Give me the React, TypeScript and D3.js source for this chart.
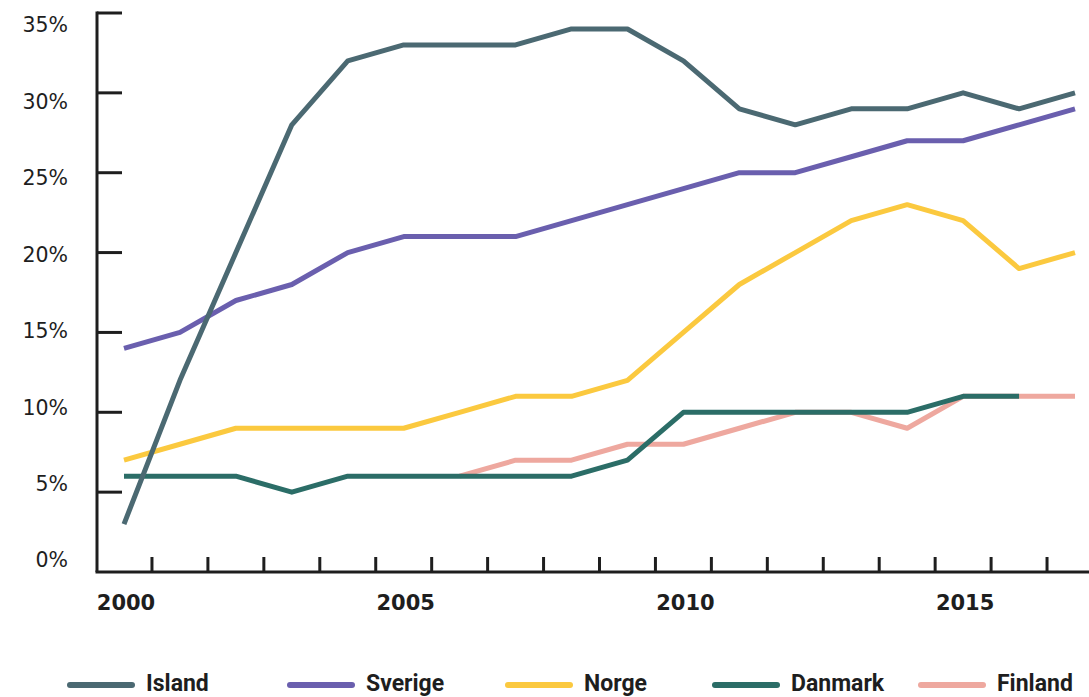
import React from "react";
import * as d3 from "d3";

const years = d3.range(2000, 2018);
const island = [3, 12, 20, 28, 32, 33, 33, 33, 34, 34, 32, 29, 28, 29, 29, 30, 29, 30];
const sverige = [14, 15, 17, 18, 20, 21, 21, 21, 22, 23, 24, 25, 25, 26, 27, 27, 28, 29];
const norge = [7, 8, 9, 9, 9, 9, 10, 11, 11, 12, 15, 18, 20, 22, 23, 22, 19, 20];
const danmark = [6, 6, 6, 5, 6, 6, 6, 6, 6, 7, 10, 10, 10, 10, 10, 11, 11];
// Finland only appears from 2006 on (hidden under Danmark before that)
const finland = [null, null, null, null, null, null, 6, 7, 7, 8, 8, 9, 10, 10, 9, 11, 11, 11];
const yTicks = [0, 5, 10, 15, 20, 25, 30, 35];
const xLabels = [2000, 2005, 2010, 2015];

const series = [
  { name: "Island", values: island, color: "#4b6972" },
  { name: "Sverige", values: sverige, color: "#6a5fae" },
  { name: "Norge", values: norge, color: "#fbc93f" },
  { name: "Danmark", values: danmark, color: "#2b6d67" },
  { name: "Finland", values: finland, color: "#eea89f" },
];
// draw order: pink under teal, island on top
const drawOrder = ["Finland", "Danmark", "Norge", "Sverige", "Island"];

export default function App() {
  const W = 1089, H = 697;
  const axisX = 97, axisY = 572;
  const x = d3.scaleLinear().domain([2000, 2017]).range([124, 1075]);
  const y = d3.scaleLinear().domain([0, 35]).range([axisY, 13]);
  // tick labels sit on a slightly tighter spacing than the ticks in the original
  const yLab = d3.scaleLinear().domain([0, 35]).range([560, 25]);
  const line = d3
    .line<number | null>()
    .defined((d) => d != null)
    .x((_, i) => x(years[i]))
    .y((d) => y(d as number));
  const halfTicks = d3.range(2000.5, 2017, 1);
  const legendX = [67, 287, 505, 712, 918];
  const ink = "#1e1e1e";

  return (
    <svg width={W} height={H} style={{ position: "absolute", left: 0, top: 0, background: "#fff" }}>
      {/* y axis */}
      <line x1={axisX} x2={axisX} y1={y(35) - 1.5} y2={axisY} stroke={ink} strokeWidth={3} />
      {yTicks.filter((t) => t > 0).map((t) => (
        <line key={t} x1={axisX} x2={axisX + 25} y1={y(t)} y2={y(t)} stroke={ink} strokeWidth={3} />
      ))}
      {yTicks.map((t) => (
        <text key={t} x={68} y={yLab(t)} dy="0.36em" textAnchor="end" fontFamily="DejaVu Sans" fontWeight={500} fontSize={20.5} fill={ink}>
          {t}%
        </text>
      ))}
      {/* x axis */}
      <line x1={axisX - 1.5} x2={W} y1={axisY} y2={axisY} stroke={ink} strokeWidth={3} />
      {halfTicks.map((t) => (
        <line key={t} x1={x(t)} x2={x(t)} y1={axisY} y2={axisY - 15} stroke={ink} strokeWidth={3} />
      ))}
      {xLabels.map((t) => (
        <text key={t} x={x(t) + 2} y={610} textAnchor="middle" fontFamily="DejaVu Sans" fontWeight="bold" fontSize={21} fill={ink}>
          {t}
        </text>
      ))}
      {/* lines */}
      {drawOrder.map((n) => {
        const s = series.find((d) => d.name === n)!;
        return (
          <path key={n} d={line(s.values) || ""} fill="none" stroke={s.color} strokeWidth={5} strokeLinejoin="round" />
        );
      })}
      {/* legend */}
      {series.map((s, i) => (
        <g key={s.name} transform={`translate(${legendX[i]},685)`}>
          <line x1={3} x2={65} y1={0} y2={0} stroke={s.color} strokeWidth={6} strokeLinecap="round" />
          <text x={79} y={6} fontFamily="Roboto" fontWeight="bold" fontSize={23} fill={ink}>
            {s.name}
          </text>
        </g>
      ))}
    </svg>
  );
}
